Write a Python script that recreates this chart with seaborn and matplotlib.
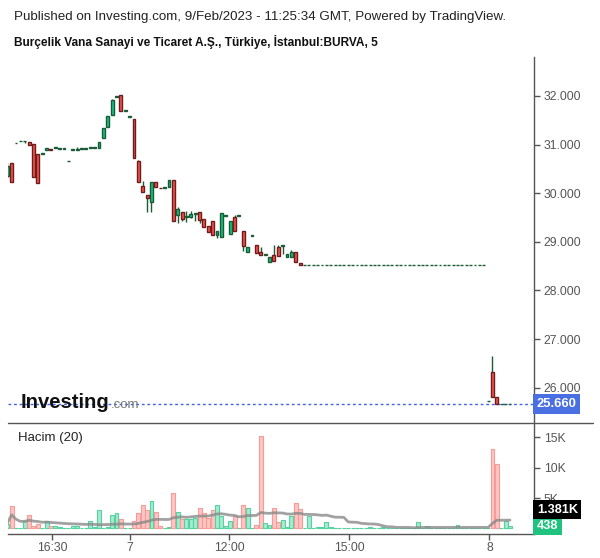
import matplotlib
matplotlib.use("Agg")
import matplotlib.pyplot as plt
import seaborn as sns
import numpy as np
import pandas as pd
from matplotlib.lines import Line2D

# ---------------- data ----------------
opens = [30.35, 30.62, 31.03, 31.07, 31.07, 31.05, 31.01, 30.81, 30.81, 30.89,
         30.91, 30.93, 30.91, 30.91, 30.66, 30.89, 30.89, 30.91, 30.91, 30.93,
         30.93, 30.93, 31.14, 31.36, 31.61, 31.98, 32.02, 31.69, 31.57, 31.53,
         30.66, 30.15, 29.96, 29.82, 30.23, 30.11, 30.11, 30.13, 30.27, 29.55,
         29.61, 29.51, 29.51, 29.57, 29.61, 29.47, 29.33, 29.43, 29.14, 29.10,
         29.53, 29.16, 29.51, 29.53, 29.22, 28.79, 29.12, 28.93, 28.79, 28.73,
         28.58, 28.73, 28.89, 28.91, 28.69, 28.69, 28.79, 28.56, 28.52, 28.52,
         28.52, 28.52, 28.52, 28.52, 28.52, 28.52, 28.52, 28.52, 28.52, 28.52,
         28.52, 28.52, 28.52, 28.52, 28.52, 28.52, 28.52, 28.52, 28.52, 28.52,
         28.52, 28.52, 28.52, 28.52, 28.52, 28.52, 28.52, 28.52, 28.52, 28.52,
         28.52, 28.52, 28.52, 28.52, 28.52, 28.52, 28.52, 28.52, 28.52, 28.52,
         25.72, 26.32, 25.81, 25.66, 25.66, 25.66]
highs = [30.62, 30.62, 31.03, 31.07, 31.07, 31.05, 31.01, 30.81, 30.81, 30.93,
         30.91, 30.93, 30.91, 30.91, 30.66, 30.89, 30.95, 30.93, 30.91, 30.93,
         30.93, 31.05, 31.34, 31.59, 31.94, 32.00, 32.02, 31.69, 31.57, 31.53,
         30.68, 30.25, 29.96, 30.23, 30.23, 30.11, 30.11, 30.27, 30.27, 29.72,
         29.61, 29.63, 29.63, 29.59, 29.61, 29.47, 29.33, 29.43, 29.22, 29.59,
         29.53, 29.43, 29.55, 29.53, 29.22, 28.89, 29.12, 28.93, 28.89, 28.73,
         28.69, 28.93, 28.93, 28.93, 28.75, 28.83, 28.79, 28.56, 28.52, 28.52,
         28.52, 28.52, 28.52, 28.52, 28.52, 28.52, 28.52, 28.52, 28.52, 28.52,
         28.52, 28.52, 28.52, 28.52, 28.52, 28.52, 28.52, 28.52, 28.52, 28.52,
         28.52, 28.52, 28.52, 28.52, 28.52, 28.52, 28.52, 28.52, 28.52, 28.52,
         28.52, 28.52, 28.52, 28.52, 28.52, 28.52, 28.52, 28.52, 28.52, 28.52,
         25.72, 26.65, 25.81, 25.66, 25.66, 25.66]
lows = [30.31, 30.23, 31.03, 31.07, 31.03, 30.99, 30.33, 30.21, 30.81, 30.89,
        30.89, 30.93, 30.91, 30.91, 30.66, 30.89, 30.89, 30.91, 30.91, 30.93,
        30.93, 30.93, 31.14, 31.36, 31.61, 31.98, 31.69, 31.69, 31.57, 30.72,
        30.23, 30.02, 29.61, 29.61, 30.13, 30.10, 30.11, 30.13, 29.43, 29.39,
        29.43, 29.41, 29.49, 29.43, 29.39, 29.30, 29.20, 29.14, 29.08, 29.10,
        29.53, 29.16, 29.22, 29.53, 28.81, 28.79, 29.12, 28.77, 28.73, 28.73,
        28.58, 28.60, 28.71, 28.75, 28.69, 28.69, 28.58, 28.52, 28.52, 28.52,
        28.52, 28.52, 28.52, 28.52, 28.52, 28.52, 28.52, 28.52, 28.52, 28.52,
        28.52, 28.52, 28.52, 28.52, 28.52, 28.52, 28.52, 28.52, 28.52, 28.52,
        28.52, 28.52, 28.52, 28.52, 28.52, 28.52, 28.52, 28.52, 28.52, 28.52,
        28.52, 28.52, 28.52, 28.52, 28.52, 28.52, 28.52, 28.52, 28.52, 28.52,
        25.72, 25.81, 25.66, 25.66, 25.66, 25.66]
closes = [30.55, 30.23, 31.03, 31.07, 31.07, 30.99, 30.33, 30.21, 30.81, 30.93,
          30.89, 30.93, 30.91, 30.91, 30.66, 30.89, 30.91, 30.93, 30.91, 30.93,
          30.93, 31.05, 31.34, 31.59, 31.92, 32.00, 31.69, 31.69, 31.57, 30.72,
          30.23, 30.02, 29.90, 30.23, 30.13, 30.10, 30.11, 30.27, 29.43, 29.67,
          29.47, 29.53, 29.57, 29.59, 29.45, 29.30, 29.20, 29.14, 29.22, 29.59,
          29.53, 29.43, 29.22, 29.53, 28.91, 28.89, 29.12, 28.77, 28.73, 28.73,
          28.69, 28.60, 28.71, 28.93, 28.75, 28.79, 28.58, 28.52, 28.52, 28.52,
          28.52, 28.52, 28.52, 28.52, 28.52, 28.52, 28.52, 28.52, 28.52, 28.52,
          28.52, 28.52, 28.52, 28.52, 28.52, 28.52, 28.52, 28.52, 28.52, 28.52,
          28.52, 28.52, 28.52, 28.52, 28.52, 28.52, 28.52, 28.52, 28.52, 28.52,
          28.52, 28.52, 28.52, 28.52, 28.52, 28.52, 28.52, 28.52, 28.52, 28.52,
          25.72, 25.81, 25.66, 25.66, 25.66, 25.66]
# volume in thousands
volumes = [0.8, 3.7, 0.1, 0.1, 1.2, 2.2, 0.4, 0.7, 0.1, 1.2,
           0.4, 0.4, 0.3, 0.1, 0.1, 0.4, 0.4, 0.1, 0.1, 1.2,
           0.2, 3.0, 0.1, 0.3, 2.2, 2.5, 1.5, 0.1, 0.05, 1.2,
           2.5, 3.8, 3.0, 4.6, 2.7, 0.4, 0.1, 0.2, 5.8, 2.7,
           1.5, 1.5, 1.5, 1.8, 3.4, 2.5, 1.8, 3.0, 3.8, 2.0,
           0.4, 1.2, 2.1, 0.1, 3.9, 3.4, 0.1, 0.6, 15.2, 0.9,
           0.6, 3.4, 1.1, 1.4, 0.3, 2.1, 4.2, 3.2, 0.1, 2.0,
           0.1, 0.2, 0.2, 1.1, 0.3, 0.1, 0.1, 0.1, 0.1, 0.1,
           0.1, 0.1, 0.1, 0.3, 0.1, 0.1, 0.2, 0.1, 0.1, 0.1,
           0.1, 0.1, 0.1, 0.1, 1.1, 0.1, 0.4, 0.1, 0.1, 0.1,
           0.1, 0.1, 0.1, 0.5, 0.1, 0.1, 0.1, 0.1, 0.1, 0.1,
           0.1, 13.1, 10.6, 0.08, 1.2, 0.438]
last_price = 25.66
price_ticks = [26, 27, 28, 29, 30, 31, 32]
vol_ticks = [5, 10, 15]
vol_tick_labels = ["5K", "10K", "15K"]
time_tick_pos = [10.3, 28.1, 50.8, 78.2, 110.3]
time_tick_labels = ["16:30", "7", "12:00", "15:00", "8"]
title_line1 = "Published on Investing.com, 9/Feb/2023 - 11:25:34 GMT, Powered by TradingView."
title_line2 = "Burçelik Vana Sanayi ve Ticaret A.Ş., Türkiye, İstanbul:BURVA, 5"
vol_label = "Hacim (20)"
ma_period = 20

# ---------------- style ----------------
sns.set_theme(style="white")
plt.rcParams['font.family'] = ['Liberation Sans', 'DejaVu Sans']

W, H = 600, 558
fig = plt.figure(figsize=(W / 100, H / 100), dpi=100)

def fx(px):
    return px / W

def fy(py):
    return 1 - py / H

ax = fig.add_axes([fx(8), fy(423), fx(526), (423 - 57) / H])
axv = fig.add_axes([fx(8), fy(534), fx(526), (534 - 423) / H])

df = pd.DataFrame({"o": opens, "h": highs, "l": lows, "c": closes, "v": volumes})
df["i"] = np.arange(len(df))
df["up"] = df["c"] >= df["o"]
df["ma"] = df["v"].rolling(ma_period, min_periods=1).mean()

up_fill, up_edge = "#14c47d", "#1a5c3a"
dn_fill, dn_edge = "#f2564b", "#6e1c1c"
wick_col = "#1f5a36"

# wicks
ax.vlines(df["i"], df["l"], df["h"], color=wick_col, lw=1.0, zorder=2)
# bodies
body_bottom = np.minimum(df["o"], df["c"])
body_h = np.maximum(np.abs(df["c"] - df["o"]), 0.012)
ax.bar(df["i"], body_h, bottom=body_bottom, width=0.66,
       color=np.where(df["up"], up_fill, dn_fill),
       edgecolor=np.where(df["up"], up_edge, dn_edge), linewidth=1.0, zorder=3)

ax.axhline(last_price, color="#3f62e6", lw=1.0, ls=(0, (2, 2)), zorder=1)

xmin, xmax = 0.18, 120.5
ax.set_xlim(xmin, xmax)
ax.set_ylim(25.272, 32.802)
ax.set_xticks([])
ax.yaxis.tick_right()
ax.set_yticks(price_ticks)
ax.set_yticklabels([f"{p:.3f}" for p in price_ticks])
ax.tick_params(axis="y", direction="out", length=4, width=1, color="#555555",
               labelcolor="#555555", labelsize=8.8, pad=3, right=True, left=False)
for s in ["top", "left", "bottom"]:
    ax.spines[s].set_visible(False)
ax.spines["right"].set_color("#555555")
ax.spines["right"].set_linewidth(1)
ax.set_facecolor("white")
ax.grid(False)

ax.annotate(f"{last_price:.3f}", xy=(1, last_price), xycoords=("axes fraction", "data"),
            xytext=(2, 0), textcoords="offset points", ha="left", va="center",
            fontsize=9.4, fontweight="bold", color="white",
            bbox=dict(boxstyle="square,pad=0.28", fc="#4a6fe3", ec="none"),
            annotation_clip=False)

# ---------------- volume panel ----------------
axv.bar(df["i"], df["v"], width=0.9,
        color=np.where(df["up"], "#a6ebd1", "#ffc6c3"),
        edgecolor=np.where(df["up"], "#55d39f", "#f59c98"), linewidth=0.8, zorder=2)
sns.lineplot(x=df["i"], y=df["ma"], ax=axv, color="#8a8a8a", lw=2.0, alpha=0.8,
             zorder=3, legend=False)
axv.set_xlim(xmin, xmax)
axv.set_ylim(-0.905, 17.35)
axv.set_xlabel("")
axv.set_ylabel("")
axv.yaxis.tick_right()
axv.set_yticks(vol_ticks)
axv.set_yticklabels(vol_tick_labels)
axv.set_xticks(time_tick_pos)
axv.set_xticklabels(time_tick_labels)
axv.tick_params(axis="y", direction="out", length=4, width=1, color="#555555",
                labelcolor="#555555", labelsize=8.8, pad=3, right=True, left=False)
axv.tick_params(axis="x", direction="out", length=4, width=1, color="#555555",
                labelcolor="#555555", labelsize=8.8, pad=2, bottom=True)
for s in ["top", "left"]:
    axv.spines[s].set_visible(False)
for s in ["right", "bottom"]:
    axv.spines[s].set_color("#555555")
    axv.spines[s].set_linewidth(1)
axv.grid(False)
axv.set_facecolor("white")

last_vol = volumes[-1]
last_ma = df["ma"].iloc[-1]
axv.annotate(f"{last_vol * 1000:.0f}", xy=(1, last_vol), xycoords=("axes fraction", "data"),
             xytext=(2, 0), textcoords="offset points", ha="left", va="center",
             fontsize=9.2, fontweight="bold", color="white",
             bbox=dict(boxstyle="square,pad=0.28", fc="#1fc27e", ec="none"),
             annotation_clip=False, zorder=5)
axv.annotate(f"{last_ma:.3f}K", xy=(1, last_vol), xycoords=("axes fraction", "data"),
             xytext=(2, 11.5), textcoords="offset points", ha="left", va="center",
             fontsize=9.2, fontweight="bold", color="white",
             bbox=dict(boxstyle="square,pad=0.28", fc="#000000", ec="none"),
             annotation_clip=False, zorder=5)

# separator line between panels
fig.add_artist(Line2D([fx(8), fx(593)], [fy(423), fy(423)], color="#555555", lw=1))

# ---------------- texts ----------------
fig.text(fx(14), fy(17), title_line1, fontsize=9.6, color="#222222", ha="left", va="center")
fig.text(fx(14), fy(42), title_line2, fontsize=8.6, fontweight="bold", color="#111111",
         ha="left", va="center")
fig.text(fx(18), fy(438), vol_label, fontsize=9.5, color="#222222", ha="left", va="center")
fig.text(fx(21), fy(408), "Investing", fontsize=14.6, fontweight="bold",
         color="#111111", ha="left", va="baseline")
fig.text(fx(111), fy(408), ".com", fontsize=9.5, color="#777777", ha="left", va="baseline")

fig.savefig("out.png", dpi=100, facecolor="white")
